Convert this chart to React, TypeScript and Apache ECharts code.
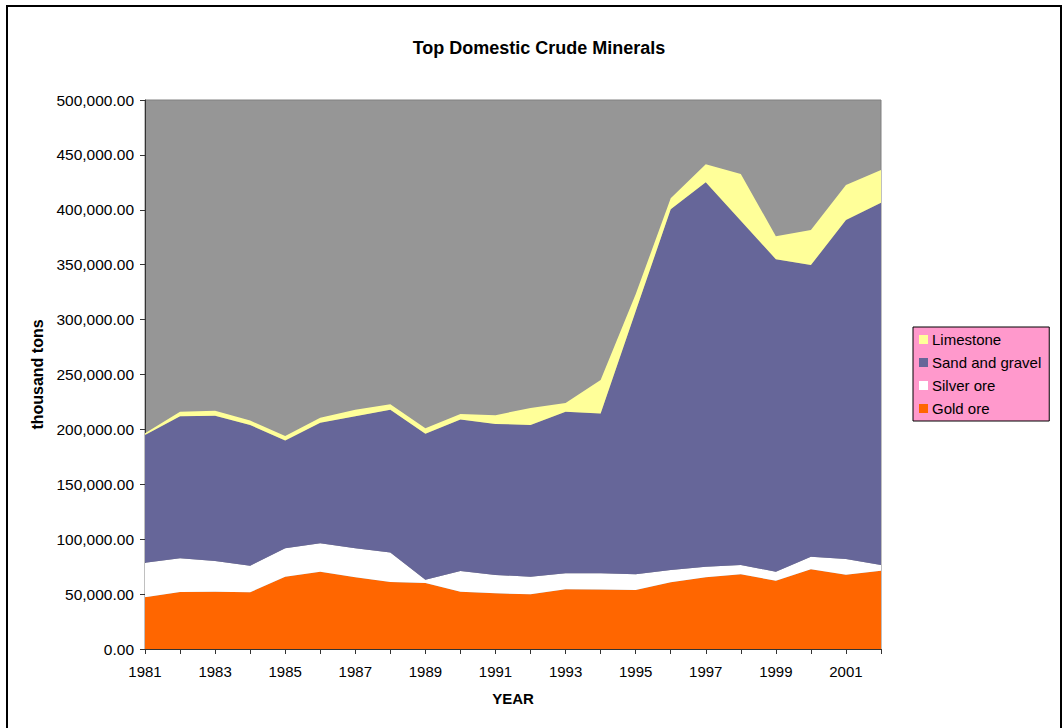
import React, { useEffect, useRef } from "react";
import * as echarts from "echarts";

const years = [
  "1981", "1982", "1983", "1984", "1985", "1986", "1987", "1988", "1989", "1990", "1991",
  "1992", "1993", "1994", "1995", "1996", "1997", "1998", "1999", "2000", "2001", "2002",
];

const goldOre = [
  47100, 51900, 52200, 51600, 65900, 70400, 65300, 61000, 60000, 52200, 50700,
  49800, 54400, 54200, 53700, 60700, 65300, 68000, 62200, 72600, 67700, 71300,
];

const silverOre = [
  31500, 30700, 27900, 24300, 25800, 25900, 26400, 27000, 3000, 18800, 16700,
  16100, 14500, 14700, 14300, 11300, 9700, 8500, 8200, 11500, 14300, 5200,
];

const sandAndGravel = [
  116400, 129400, 132400, 128100, 98300, 109700, 120300, 130000, 133000, 138000, 137600,
  138100, 147100, 145600, 239500, 328500, 350000, 313500, 284600, 265600, 308700, 330000,
];

const limestone = [
  1500, 4000, 4500, 4000, 4000, 4500, 6000, 5000, 5000, 5000, 8000,
  15500, 8000, 30500, 15500, 10000, 16500, 42500, 21000, 31900, 31900, 29700,
];

const legendOrder = ["Limestone", "Sand and gravel", "Silver ore", "Gold ore"];

const FONT = "Liberation Sans, Arial, Helvetica, sans-serif";

export default function App() {
  const ref = useRef<HTMLDivElement>(null);

  useEffect(() => {
    if (!ref.current) return;
    const chart = echarts.init(ref.current, undefined, { renderer: "svg" });

    const areaSeries = (name: string, data: number[], color: string) => ({
      name,
      type: "line",
      stack: "total",
      data,
      symbol: "none",
      showSymbol: false,
      lineStyle: { width: 0, color },
      itemStyle: { color },
      areaStyle: { color, opacity: 1 },
    });

    chart.setOption({
      animation: false,
      backgroundColor: "#ffffff",
      textStyle: { fontFamily: FONT },
      title: {
        text: "Top Domestic Crude Minerals",
        left: 534,
        textAlign: "center",
        top: 34,
        textStyle: { fontSize: 18, fontWeight: "bold", color: "#000", fontFamily: FONT },
      },
      legend: {
        data: legendOrder,
        orient: "vertical",
        left: 913,
        top: 327,
        padding: [5, 8, 5, 6],
        itemGap: 8,
        itemWidth: 9,
        itemHeight: 9,
        icon: "rect",
        backgroundColor: "#FF99CC",
        borderColor: "#000",
        borderWidth: 1,
        textStyle: { fontSize: 15, color: "#000", fontFamily: FONT, padding: [0, 0, 0, -1] },
      },
      grid: {
        left: 145,
        right: 182,
        top: 100,
        bottom: 79,
        show: true,
        backgroundColor: "#969696",
        borderColor: "#808080",
        borderWidth: 1,
      },
      xAxis: {
        type: "category",
        data: years,
        boundaryGap: false,
        name: "YEAR",
        nameLocation: "middle",
        nameGap: 42,
        nameTextStyle: { fontSize: 15, fontWeight: "bold", color: "#000", fontFamily: FONT },
        axisLine: { show: true, lineStyle: { color: "#333", width: 1 } },
        axisTick: { show: true, interval: 0, length: 5, lineStyle: { color: "#333" } },
        axisLabel: { interval: 1, fontSize: 15, color: "#000", margin: 15, fontFamily: FONT },
        splitLine: { show: false },
      },
      yAxis: {
        type: "value",
        min: 0,
        max: 500000,
        interval: 50000,
        name: "thousand tons",
        nameLocation: "middle",
        nameRotate: 90,
        nameGap: 97,
        nameTextStyle: { fontSize: 16, fontWeight: "bold", color: "#000", fontFamily: FONT },
        axisLine: { show: true, lineStyle: { color: "#333", width: 1 } },
        axisTick: { show: true, length: 5, inside: false, lineStyle: { color: "#333" } },
        axisLabel: {
          fontSize: 15.5,
          color: "#000",
          margin: 11,
          fontFamily: FONT,
          formatter: (v: number) =>
            v.toLocaleString("en-US", { minimumFractionDigits: 2, maximumFractionDigits: 2 }),
        },
        splitLine: { show: false },
      },
      series: [
        areaSeries("Gold ore", goldOre, "#FF6600"),
        areaSeries("Silver ore", silverOre, "#FFFFFF"),
        areaSeries("Sand and gravel", sandAndGravel, "#666699"),
        areaSeries("Limestone", limestone, "#FFFF99"),
      ],
      graphic: [
        {
          type: "rect",
          shape: { x: 7, y: 6, width: 1054, height: 730 },
          style: { fill: "none", stroke: "#000", lineWidth: 2 },
          silent: true,
          z: 100,
        },
      ],
    });

    return () => chart.dispose();
  }, []);

  return (
    <div
      ref={ref}
      style={{ position: "absolute", left: 0, top: 0, width: 1063, height: 728 }}
    />
  );
}
